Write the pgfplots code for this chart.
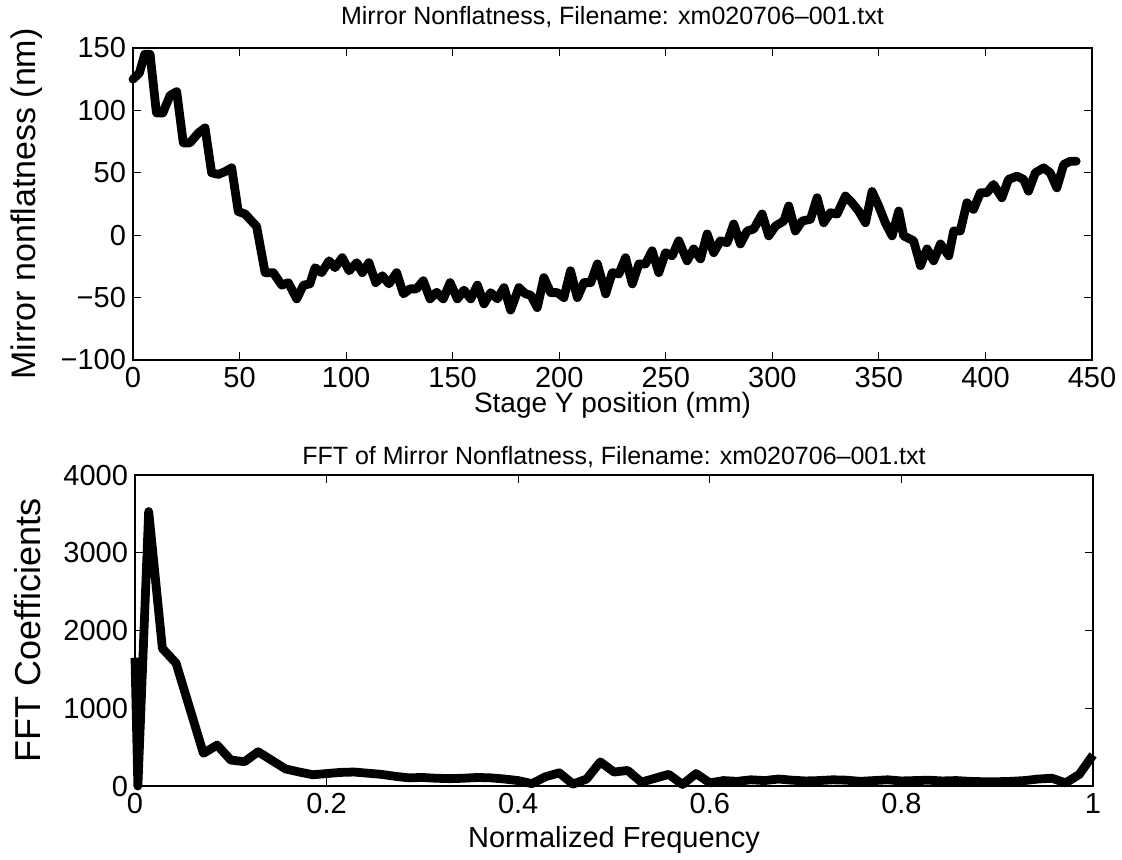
\documentclass[border=0pt]{standalone}
\usepackage{fontspec}
\setmainfont{Liberation Sans}
\usepackage{pgfplots}
\pgfplotsset{compat=1.18}
\begin{document}
\begin{tikzpicture}
\pgfplotsset{
  every axis title shift=0pt,
  mat/.style={
    scale only axis,
    tick pos=both,
    tick align=inside,
    major tick length=4pt,
    axis line style={line width=0.6pt},
    every tick/.style={black,line width=0.6pt},
    clip=false,
    /pgf/number format/assume math mode=true,
    /pgf/number format/1000 sep={},
    scaled ticks=false,
    tick label style={font=\fontsize{14.5}{14.5}\selectfont},
    title style={font=\fontsize{12.5}{12.5}\selectfont, anchor=center},
  }
}
\path[use as bounding box] (-66.5pt,-249.5pt) rectangle (494.5pt,180pt);
% ---------- top axis ----------
\begin{axis}[mat,
  at={(0pt,0pt)}, anchor=south west,
  width=479.5pt, height=156pt,
  xmin=0, xmax=450, ymin=-100, ymax=150,
  xtick={0,50,...,450},
  ytick={-100,-50,0,50,100,150},
  yticklabels={−100,−50,0,50,100,150},
  title={Mirror Nonflatness, Filename: xm020706–001.txt},
  title style={at={(axis description cs:0.5,1.1)}},
  xlabel={Stage Y position (mm)},
  xlabel style={at={(axis description cs:0.5,-0.145)}, anchor=center, font=\fontsize{14}{14}\selectfont},
  ylabel={Mirror nonflatness (nm)},
  ylabel style={at={(axis description cs:-0.111,0.5)}, anchor=center, rotate=0, font=\fontsize{17}{17}\selectfont},
]
\addplot[black, line width=4.4pt, line join=round, line cap=round] coordinates {
(0,125) (3,130) (5.5,145) (8,145) (11,98) (14,98) (17.4,112) (20.5,115)
(23.6,74) (26.7,74) (30.7,82) (33.8,86) (36.9,50) (40,48.7) (43.2,51) (46.3,54)
(49.4,19) (52.6,17) (58,7) (62,-30) (65.8,-30) (69.8,-40) (72.9,-38) (76.8,-51)
(80,-40) (83,-39) (85.4,-26) (88.5,-30) (92,-20.5) (94.8,-26) (98.2,-18) (101.4,-28.5)
(105,-22) (107.6,-30) (110.7,-22) (113.9,-38) (117,-32.5) (120.1,-39) (123.7,-30) (126.9,-47)
(130,-43) (133,-43) (136.2,-36.5) (139.4,-51) (142.5,-45.7) (145.6,-51) (148.8,-38) (152.2,-51)
(155.3,-44) (158.5,-51) (161.6,-40) (164.7,-55) (167.8,-46) (171,-51) (174.1,-42) (177.2,-60)
(181.1,-42) (184.2,-47) (186.6,-48) (189.7,-58) (192.8,-34) (196,-46) (199.1,-46) (202.2,-50)
(205.3,-28.5) (208.5,-50) (211.6,-38) (214.8,-38) (217.9,-23) (221.8,-47) (224.9,-30) (228,-31)
(231.1,-18) (234.3,-39) (237.4,-23) (240.5,-23) (243.6,-12.5) (246.7,-30) (249.9,-14) (253,-16.5)
(256.1,-4.5) (260,-20.5) (263.1,-11) (266.3,-19) (269.4,1) (272.5,-14) (275.6,-4.5) (278.8,-6)
(281.9,9) (285,-7) (288.2,3.4) (291.3,5) (295.2,17) (298.3,-0.5) (301.5,7.4) (305.4,11.4)
(307.7,23.4) (310.8,3.4) (314,11.4) (317.9,12.8) (321,30) (324.1,10) (327.2,18) (330.4,17)
(334.3,31.4) (337.4,26) (340.5,19.4) (343.7,10) (346.8,35) (349.9,23.4) (353,10) (356.2,-0.5)
(359.3,19.4) (361.6,-0.5) (366.3,-4.5) (369.5,-24.4) (372.6,-11) (375.7,-20.5) (378.9,-7) (382.8,-16.5)
(385.1,3.4) (388.2,3.4) (391.3,26) (394.4,20.7) (397.6,34) (400.7,34) (403.8,40.7) (407.7,30)
(410.8,44.7) (414.8,47.3) (417.9,44.7) (420.2,35.3) (423.4,50) (427.3,54) (430.4,50) (433.5,38)
(436.7,56.6) (439.8,59.3) (442.6,59.3)
};
\end{axis}
% ---------- bottom axis ----------
\begin{axis}[mat,
  at={(1pt,-213pt)}, anchor=south west,
  width=479pt, height=155.5pt,
  xmin=0, xmax=1, ymin=0, ymax=4000,
  xtick={0,0.2,0.4,0.6,0.8,1},
  ytick={0,1000,2000,3000,4000},
  title={FFT of Mirror Nonflatness, Filename: xm020706–001.txt},
  title style={at={(axis description cs:0.5,1.058)}},
  xlabel={Normalized Frequency},
  xlabel style={at={(axis description cs:0.5,-0.175)}, anchor=center, font=\fontsize{14.5}{14.5}\selectfont},
  ylabel={FFT Coefficients},
  ylabel style={at={(axis description cs:-0.112,0.5)}, anchor=center, rotate=0, font=\fontsize{18}{18}\selectfont},
]
\addplot[black, line width=4.4pt, line join=round] coordinates {
(0,1650) (0.003,0) (0.01429,3530) (0.02857,1770) (0.04286,1580) (0.05714,1000)
(0.07143,420) (0.08571,527) (0.1,334) (0.11429,313) (0.12857,441) (0.14286,330)
(0.15714,220) (0.17143,180) (0.18571,145) (0.2,160) (0.21429,175) (0.22857,180)
(0.24286,165) (0.25714,150) (0.27143,125) (0.28571,105) (0.3,110) (0.31429,100)
(0.32857,95) (0.34286,100) (0.35714,110) (0.37143,105) (0.38571,90) (0.4,70)
(0.41429,30) (0.42857,120) (0.44286,170) (0.45714,25) (0.47143,90) (0.48571,310)
(0.5,180) (0.51429,200) (0.52857,50) (0.54286,100) (0.55714,150) (0.57143,20)
(0.58571,160) (0.6,40) (0.61429,70) (0.62857,60) (0.64286,80) (0.65714,70)
(0.67143,90) (0.68571,75) (0.7,65) (0.71429,70) (0.72857,80) (0.74286,75)
(0.75714,60) (0.77143,70) (0.78571,80) (0.8,65) (0.81429,70) (0.82857,75)
(0.84286,65) (0.85714,70) (0.87143,60) (0.88571,55) (0.9,55) (0.91429,60)
(0.92857,70) (0.94286,90) (0.95714,100) (0.97143,40) (0.98571,150) (1,400)
};
\end{axis}
\end{tikzpicture}
\end{document}
